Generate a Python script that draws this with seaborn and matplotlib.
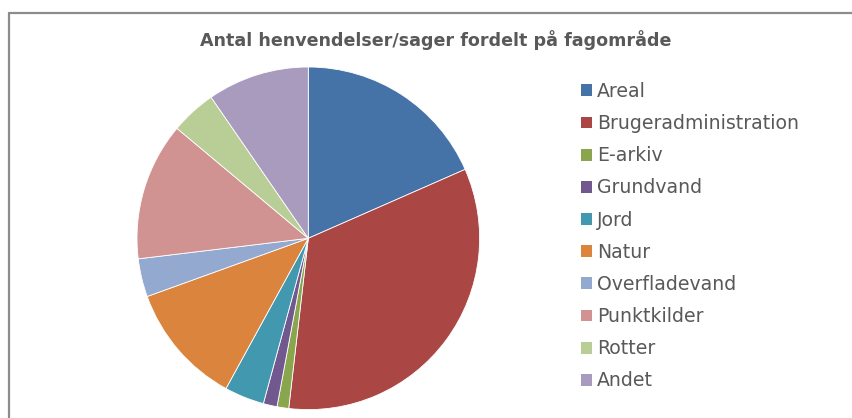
import matplotlib
matplotlib.use("Agg")
import matplotlib.pyplot as plt
import seaborn as sns
from matplotlib.patches import Patch
from matplotlib.lines import Line2D

sns.set_theme(style="white")
plt.rcParams['font.family'] = ['DejaVu Sans']

title = "Antal henvendelser/sager fordelt på fagområde"
categories = ["Areal", "Brugeradministration", "E-arkiv", "Grundvand", "Jord",
              "Natur", "Overfladevand", "Punktkilder", "Rotter", "Andet"]
values = [18.4, 33.4, 1.1, 1.3, 3.75, 11.5, 3.6, 13.0, 4.3, 9.6]
colors = ["#4572A7", "#AA4643", "#89A54E", "#71588F", "#4198AF",
          "#DB843D", "#93A9CF", "#D19392", "#B9CD96", "#A99BBD"]

W, H = 853, 418
fig = plt.figure(figsize=(W / 100, H / 100), dpi=100)
fig.patch.set_facecolor("white")

cx, cy, r = 308.3, 238.3, 171.3
ax = fig.add_axes([(cx - r) / W, (H - cy - r) / H, 2 * r / W, 2 * r / H])
wedges, _ = ax.pie(values, colors=colors, startangle=90, counterclock=False,
                   wedgeprops=dict(linewidth=0.6, edgecolor="white"), radius=1.0)
ax.set_xlim(-1, 1)
ax.set_ylim(-1, 1)
ax.set_aspect("equal")
ax.axis("off")

# border (left and top)
fig.add_artist(Line2D([8.5 / W, 8.5 / W], [0, 1 - 12.5 / H], color="#8c8c8c", lw=1.6,
                      transform=fig.transFigure))
fig.add_artist(Line2D([8.5 / W, 1], [1 - 12.5 / H, 1 - 12.5 / H], color="#8c8c8c", lw=1.6,
                      transform=fig.transFigure))

fig.text(436 / W, 1 - 40 / H, title, ha="center", va="center", fontsize=12.6,
         fontweight="bold", color="#595959")

handles = [Patch(facecolor=c, edgecolor="none") for c in colors]
leg = fig.legend(handles, categories, loc="upper left",
                 bbox_to_anchor=(581 / W, 1 - 82 / H), frameon=False,
                 fontsize=13.6, labelcolor="#595959", handlelength=0.58,
                 handleheight=0.58, handletextpad=0.27, labelspacing=0.697,
                 borderpad=0, borderaxespad=0)

fig.savefig("out.png", dpi=100, facecolor="white")
